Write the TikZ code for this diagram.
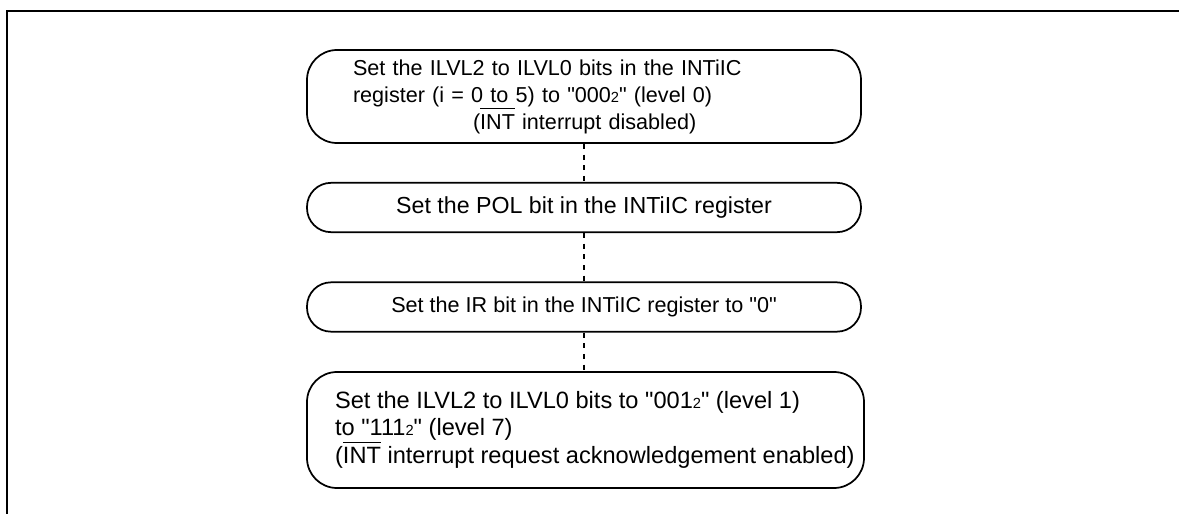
\documentclass[tikz,border=0pt]{standalone}
\usepackage{fontspec}
\setmainfont{Liberation Sans}
\newcommand\barred[1]{\setbox0\hbox{#1}\rlap{\rule[\dimexpr\ht0+3.6pt\relax]{\wd0}{0.8pt}}\box0\relax}
\newcommand\subtwo{{\fontsize{11pt}{11pt}\selectfont 2}}
\newcommand\dq{\textquotedbl}
\begin{document}
\begin{tikzpicture}[x=0.75pt,y=-0.75pt,
  frame/.style={line width=1.6pt},
  stepbox/.style={draw,line width=1.3pt,font=\fontsize{16.2pt}{20.2pt}\selectfont,
     inner ysep=0pt},
  tallbox/.style={stepbox,rounded corners=22.5pt,align=left},
  flatbox/.style={stepbox,rounded corners=18pt,minimum width=415.5pt,minimum height=37pt,align=center},
  link/.style={dashed,line width=1.1pt,dash pattern=on 3.8pt off 4.2pt}]
\useasboundingbox (0,0) rectangle (1179,514);
\draw[frame] (7,520) -- (7,11) -- (1185,11);

\node[tallbox,text width=346.5pt,inner xsep=34.5pt,minimum height=69.75pt] (b1) at (584,96.5)
  {Set the ILVL2 to ILVL0 bits in the INTiIC\\
   register (i = 0 to 5) to \dq 000\subtwo\dq{} (level 0)\\
   \hspace*{90pt}(\barred{INT} interrupt disabled)};
\node[flatbox,font=\fontsize{17.4pt}{20.2pt}\selectfont] (b2) at (584,207.5) {Set the POL bit in the INTiIC register};
\node[flatbox] (b3) at (584,307) {Set the IR bit in the INTiIC register to \dq 0\dq};
\node[tallbox,font=\fontsize{17.7pt}{20.2pt}\selectfont,inner xsep=0pt,minimum width=417.75pt,minimum height=87pt] (b4) at (585.5,430)
  {Set the ILVL2 to ILVL0 bits to \dq 001\subtwo\dq{} (level 1)\\
   to \dq 111\subtwo\dq{} (level 7)\\
   (\barred{INT} interrupt request acknowledgement enabled)\hspace*{-14pt}};

\draw[link] (b1) -- (b2);
\draw[link] (b2) -- (b3);
\draw[link] (b3) -- (b4.north -| b3);
\end{tikzpicture}
\end{document}
